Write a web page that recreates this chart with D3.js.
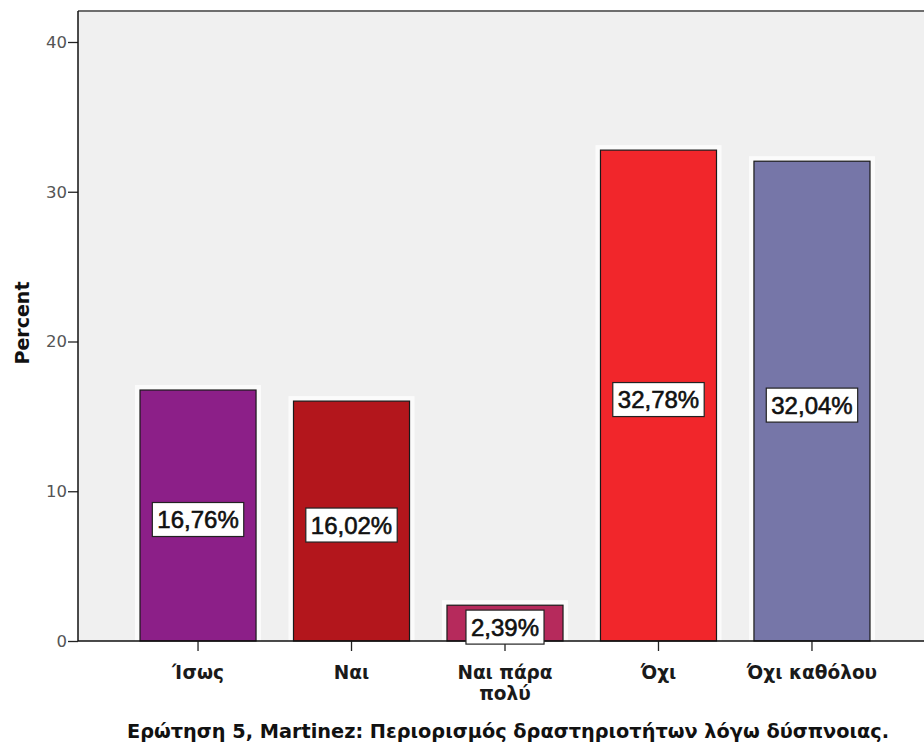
<!DOCTYPE html>
<html><head><meta charset="utf-8">
<script src="https://cdn.jsdelivr.net/npm/d3@7"></script>
<style>html,body{margin:0;padding:0;background:#fff;}</style>
</head><body>
<svg id="c" width="924" height="746"></svg>
<script>
const categories = ["Ίσως", "Ναι", "Ναι πάρα πολύ", "Όχι", "Όχι καθόλου"];
const categoryLines = [["Ίσως"], ["Ναι"], ["Ναι πάρα", "πολύ"], ["Όχι"], ["Όχι καθόλου"]];
const percents = [16.76, 16.02, 2.39, 32.78, 32.04];
const valueLabels = ["16,76%", "16,02%", "2,39%", "32,78%", "32,04%"];
const barColors = ["#8c1f88", "#b3161c", "#b62a5c", "#f1262b", "#7676a8"];
const yTicks = [0, 10, 20, 30, 40];
const yAxisTitle = "Percent";
const chartTitle = "Ερώτηση 5, Martinez: Περιορισμός δραστηριοτήτων λόγω δύσπνοιας.";

const svg = d3.select("#c");
const pLeft = 78, pRight = 932, pTop = 11, pBottom = 641;
const x = d3.scaleBand().domain(categories).range([pLeft, pRight]).paddingInner(0.244).paddingOuter(0.404);
const y = d3.scaleLinear().domain([0, 42.07]).range([pBottom, pTop]);

// plot background
svg.append("rect").attr("x", pLeft).attr("y", pTop).attr("width", 924 - pLeft).attr("height", pBottom - pTop).attr("fill", "#f0f0f0");
svg.append("line").attr("x1", pLeft).attr("x2", 924).attr("y1", pTop).attr("y2", pTop).attr("stroke", "#6e6e6e").attr("stroke-width", 2);

// halos
svg.append("g").selectAll("rect").data(categories).join("rect")
  .attr("x", d => x(d) - 5).attr("y", (d, i) => y(percents[i]) - 5)
  .attr("width", x.bandwidth() + 10).attr("height", (d, i) => pBottom - y(percents[i]) + 5)
  .attr("fill", "#ffffff").attr("opacity", 0.75);

// bars
svg.append("g").selectAll("rect").data(categories).join("rect")
  .attr("x", d => x(d)).attr("y", (d, i) => y(percents[i]))
  .attr("width", x.bandwidth()).attr("height", (d, i) => pBottom - y(percents[i]))
  .attr("fill", (d, i) => barColors[i]).attr("stroke", "#1a1a1a").attr("stroke-width", 1.2);

// axes
const yAxis = d3.axisLeft(y).tickValues(yTicks).tickSize(10).tickPadding(1).tickFormat(d3.format("d"));
const gy = svg.append("g").attr("transform", `translate(${pLeft},0)`).call(yAxis);
gy.select(".domain").remove();
gy.selectAll(".tick line").attr("stroke", "#222").attr("stroke-width", 1.3);
gy.selectAll(".tick text").attr("font-family", "DejaVu Sans").attr("font-size", 16.5).attr("fill", "#555");
svg.append("line").attr("x1", pLeft).attr("x2", pLeft).attr("y1", pTop).attr("y2", pBottom).attr("stroke", "#111").attr("stroke-width", 1.5);

const xAxis = d3.axisBottom(x).tickSize(10).tickFormat("");
const gx = svg.append("g").attr("transform", `translate(0,${pBottom})`).call(xAxis);
gx.select(".domain").remove();
gx.selectAll(".tick line").attr("stroke", "#222").attr("stroke-width", 1.3);
svg.append("line").attr("x1", pLeft).attr("x2", 924).attr("y1", pBottom).attr("y2", pBottom).attr("stroke", "#111").attr("stroke-width", 1.5);

// category labels
const cl = svg.append("g").selectAll("text").data(categories).join("text")
  .attr("x", d => x(d) + x.bandwidth() / 2).attr("y", 679)
  .attr("text-anchor", "middle").attr("font-family", "DejaVu Sans").attr("font-weight", "bold")
  .attr("font-size", 18.5).attr("fill", "#1a1a1a");
cl.each(function(d, i) {
  const t = d3.select(this);
  categoryLines[i].forEach((ln, j) => t.append("tspan").attr("x", x(d) + x.bandwidth() / 2).attr("dy", j === 0 ? 0 : 21).text(ln));
});

// value labels
const vl = svg.append("g").selectAll("g").data(categories).join("g")
  .attr("transform", (d, i) => `translate(${x(d) + x.bandwidth() / 2},${(y(percents[i]) + pBottom) / 2 + 4})`);
vl.append("text").attr("text-anchor", "middle").attr("dy", "0.36em")
  .attr("font-family", "Liberation Sans, Arial").attr("font-size", 24).attr("fill", "#111")
  .attr("stroke", "#111").attr("stroke-width", 0.6)
  .text((d, i) => valueLabels[i]);
vl.each(function() {
  const g = d3.select(this);
  const w = g.select("text").node().getComputedTextLength();
  g.insert("rect", "text").attr("x", -w / 2 - 5).attr("y", -17).attr("width", w + 10).attr("height", 34)
    .attr("fill", "#fff").attr("stroke", "#222").attr("stroke-width", 1.2);
});

// y-axis title
svg.append("text").attr("transform", "translate(29,323) rotate(-90)").attr("text-anchor", "middle")
  .attr("font-family", "DejaVu Sans").attr("font-weight", "bold").attr("font-size", 19).attr("fill", "#111")
  .text(yAxisTitle);

// chart title
svg.append("text").attr("x", 508).attr("y", 738).attr("text-anchor", "middle")
  .attr("font-family", "DejaVu Sans").attr("font-weight", "bold").attr("font-size", 19).attr("fill", "#111")
  .attr("textLength", 762).attr("lengthAdjust", "spacingAndGlyphs")
  .text(chartTitle);
</script>
</body></html>
